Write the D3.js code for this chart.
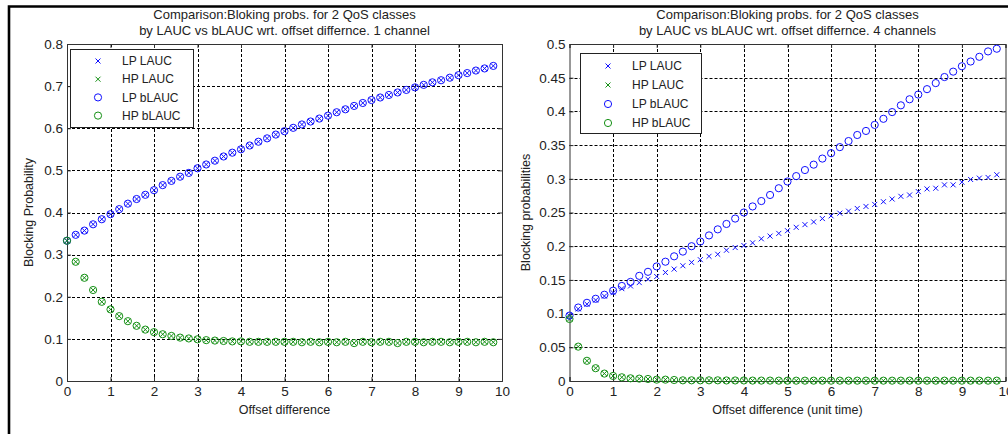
<!DOCTYPE html>
<html>
<head>
<meta charset="utf-8">
<script src="https://cdn.jsdelivr.net/npm/d3@7/dist/d3.min.js"></script>
<style>
  body { margin: 0; background: #fff; }
  svg { display: block; font-family: "Liberation Sans", Arial, sans-serif; }
</style>
</head>
<body>
<svg id="chart" width="1008" height="434"></svg>
<script>
// offset difference values (same for both panels)
var offsets = [0, 0.2, 0.4, 0.6, 0.8, 1, 1.2, 1.4, 1.6, 1.8,
               2, 2.2, 2.4, 2.6, 2.8, 3, 3.2, 3.4, 3.6, 3.8,
               4, 4.2, 4.4, 4.6, 4.8, 5, 5.2, 5.4, 5.6, 5.8,
               6, 6.2, 6.4, 6.6, 6.8, 7, 7.2, 7.4, 7.6, 7.8,
               8, 8.2, 8.4, 8.6, 8.8, 9, 9.2, 9.4, 9.6, 9.8];

// 1 channel
var lpLauc1 = [0.333, 0.347, 0.357, 0.372, 0.384, 0.396, 0.408, 0.421, 0.432, 0.442,
               0.453, 0.465, 0.475, 0.485, 0.494, 0.505, 0.514, 0.523, 0.533, 0.542,
               0.550, 0.559, 0.568, 0.576, 0.585, 0.593, 0.601, 0.609, 0.616, 0.623,
               0.630, 0.638, 0.645, 0.653, 0.660, 0.667, 0.673, 0.679, 0.685, 0.691,
               0.697, 0.703, 0.709, 0.714, 0.720, 0.726, 0.731, 0.737, 0.742, 0.748];
var hpLauc1 = [0.333, 0.283, 0.245, 0.216, 0.188, 0.170, 0.154, 0.142, 0.131, 0.122,
               0.116, 0.111, 0.107, 0.103, 0.101, 0.099, 0.097, 0.096, 0.095, 0.094,
               0.094, 0.093, 0.093, 0.093, 0.093, 0.093, 0.093, 0.092, 0.093, 0.092,
               0.093, 0.092, 0.093, 0.090, 0.093, 0.092, 0.093, 0.093, 0.090, 0.093,
               0.093, 0.092, 0.093, 0.093, 0.092, 0.093, 0.093, 0.092, 0.093, 0.092];
var lpBlauc1 = lpLauc1.slice();
var hpBlauc1 = hpLauc1.slice();

// 4 channels
var lpLauc4 = [0.097, 0.107, 0.114, 0.120, 0.126, 0.131, 0.137, 0.141, 0.146, 0.151,
               0.155, 0.161, 0.166, 0.171, 0.176, 0.180, 0.185, 0.188, 0.194, 0.198,
               0.201, 0.205, 0.211, 0.215, 0.219, 0.223, 0.228, 0.232, 0.236, 0.241,
               0.245, 0.249, 0.252, 0.256, 0.259, 0.262, 0.266, 0.270, 0.274, 0.276,
               0.281, 0.285, 0.286, 0.291, 0.291, 0.295, 0.299, 0.301, 0.302, 0.306];
var hpLauc4 = [0.092, 0.051, 0.030, 0.019, 0.011, 0.0075, 0.0055, 0.004, 0.0035, 0.003,
               0.002, 0.002, 0.0015, 0.001, 0.001, 0.001, 0.001, 0.001, 0.0008, 0.0008,
               0.0008, 0.0006, 0.0006, 0.0006, 0.0005, 0.0005, 0.0005, 0.0005, 0.0005, 0.0005,
               0.0005, 0.0005, 0.0005, 0.0005, 0.0005, 0.0005, 0.0005, 0.0005, 0.0005, 0.0005,
               0.0005, 0.0005, 0.0005, 0.0005, 0.0005, 0.0005, 0.0005, 0.0005, 0.0005, 0.0005];
var lpBlauc4 = [0.097, 0.109, 0.116, 0.122, 0.128, 0.134, 0.141, 0.147, 0.156, 0.162,
                0.170, 0.177, 0.185, 0.192, 0.200, 0.207, 0.216, 0.225, 0.233, 0.241,
                0.250, 0.259, 0.267, 0.276, 0.286, 0.296, 0.304, 0.313, 0.321, 0.330,
                0.338, 0.347, 0.356, 0.365, 0.371, 0.380, 0.389, 0.399, 0.409, 0.418,
                0.425, 0.433, 0.442, 0.451, 0.459, 0.467, 0.474, 0.481, 0.489, 0.493];
var hpBlauc4 = hpLauc4.slice();

var xTickLabels = ["0", "1", "2", "3", "4", "5", "6", "7", "8", "9", "10"];
var yTickLabels1 = ["0", "0.1", "0.2", "0.3", "0.4", "0.5", "0.6", "0.7", "0.8"];
var yTickLabels4 = ["0", "0.05", "0.1", "0.15", "0.2", "0.25", "0.3", "0.35", "0.4", "0.45", "0.5"];
var legendNames = ["LP LAUC", "HP LAUC", "LP bLAUC", "HP bLAUC"];

var BLUE = "#1010ff", GREEN = "#159015";
var TEXT = "#222";

var svg = d3.select("#chart");
svg.append("rect").attr("width", 1008).attr("height", 434).attr("fill", "#fff");

// outer frame (left and top edges visible)
svg.append("path")
  .attr("d", "M9,434 V6.5 H1008")
  .attr("fill", "none").attr("stroke", "#000").attr("stroke-width", 2.6);

function drawCross(sel, color) {
  sel.append("path")
    .attr("d", "M-2.5,-2.5L2.5,2.5M-2.5,2.5L2.5,-2.5")
    .attr("stroke", color).attr("stroke-width", 1).attr("fill", "none");
}
function drawRing(sel, color) {
  sel.append("circle").attr("r", 3.6)
    .attr("stroke", color).attr("stroke-width", 1).attr("fill", "none");
}

function label(x, y, size, str) {
  return svg.append("text").attr("x", x).attr("y", y).attr("text-anchor", "middle")
    .style("font-size", size + "px").style("fill", TEXT).text(str);
}

function drawPanel(p) {
  var x = d3.scaleLinear().domain([0, 10]).range([p.left, p.right]);
  var y = d3.scaleLinear().domain([0, p.yMax]).range([p.bottom, p.top]);
  var xTicks = xTickLabels.map(Number);
  var yTicks = p.yLabels.map(Number);
  var g = svg.append("g");

  // grid
  g.append("g").selectAll("line").data(xTicks.slice(1, -1)).enter().append("line")
    .attr("x1", function(d) { return Math.round(x(d)) + 0.5; })
    .attr("x2", function(d) { return Math.round(x(d)) + 0.5; })
    .attr("y1", p.top).attr("y2", p.bottom)
    .attr("stroke", "#000").attr("stroke-dasharray", "3,2").attr("stroke-width", 1);
  g.append("g").selectAll("line").data(yTicks.slice(1, -1)).enter().append("line")
    .attr("y1", function(d) { return Math.round(y(d)) + 0.5; })
    .attr("y2", function(d) { return Math.round(y(d)) + 0.5; })
    .attr("x1", p.left).attr("x2", p.right)
    .attr("stroke", "#000").attr("stroke-dasharray", "3,2").attr("stroke-width", 1);

  // axes (ticks inward, box on)
  var xAxis = g.append("g").attr("transform", "translate(0," + p.bottom + ")")
    .call(d3.axisBottom(x).tickValues(xTicks).tickSize(-4).tickPadding(5)
      .tickFormat(function(d, i) { return xTickLabels[i]; }));
  g.append("g").attr("transform", "translate(" + p.left + ",0)")
    .call(d3.axisLeft(y).tickValues(yTicks).tickSize(-4).tickPadding(4)
      .tickFormat(function(d, i) { return p.yLabels[i]; }));
  g.append("g").attr("transform", "translate(0," + p.top + ")")
    .call(d3.axisTop(x).tickValues(xTicks).tickSize(-4).tickFormat(""));
  g.append("g").attr("transform", "translate(" + p.right + ",0)")
    .call(d3.axisRight(y).tickValues(yTicks).tickSize(-4).tickFormat(""));
  g.selectAll(".domain").attr("stroke", "#333");
  g.selectAll(".tick line").attr("stroke", "#333");
  g.selectAll(".tick text").style("font-size", "13.5px")
    .style("font-family", "Liberation Sans, Arial, sans-serif").style("fill", TEXT);
  xAxis.selectAll(".tick text").attr("dy", "0.75em");

  // series: plot order LP LAUC, HP LAUC, LP bLAUC, HP bLAUC
  var series = [
    { v: p.lpLauc, c: BLUE, m: drawCross },
    { v: p.hpLauc, c: GREEN, m: drawCross },
    { v: p.lpBlauc, c: BLUE, m: drawRing },
    { v: p.hpBlauc, c: GREEN, m: drawRing }
  ];
  series.forEach(function(s) {
    g.append("g").selectAll("g").data(offsets).enter().append("g")
      .attr("transform", function(d, i) { return "translate(" + x(d) + "," + y(s.v[i]) + ")"; })
      .each(function() { s.m(d3.select(this), s.c); });
  });

  // legend
  var lg = g.append("g").attr("transform", "translate(" + p.legend.x + "," + p.legend.y + ")");
  lg.append("rect").attr("x", 0.5).attr("y", 0.5).attr("width", p.legend.w).attr("height", p.legend.h)
    .attr("fill", "#fff").attr("stroke", "#222").attr("stroke-width", 1);
  series.forEach(function(s, i) {
    var row = lg.append("g").attr("transform", "translate(0," + (p.legend.row0 + i * p.legend.step) + ")");
    s.m(row.append("g").attr("transform", "translate(28,0)"), s.c);
    row.append("text").attr("x", 52).attr("dy", "0.35em")
      .style("font-size", "12px").style("fill", TEXT).text(legendNames[i]);
  });

  // titles and labels
  var cx = (p.left + p.right) / 2;
  label(cx, 19, 13, p.title[0]);
  label(cx, 35, 13, p.title[1]);
  label(cx, 414, 12.5, p.xLabel);
  label(0, 0, 12.5, p.yLabel)
    .attr("transform", "translate(" + p.yLabelX + "," + ((p.top + p.bottom) / 2) + ") rotate(-90)");
}

drawPanel({
  left: 67, right: 502, top: 44, bottom: 381, yMax: 0.8, yLabels: yTickLabels1,
  lpLauc: lpLauc1, hpLauc: hpLauc1, lpBlauc: lpBlauc1, hpBlauc: hpBlauc1,
  legend: { x: 70, y: 49, w: 123, h: 78, row0: 12, step: 18.2 },
  title: ["Comparison:Bloking probs. for 2 QoS classes", "by LAUC vs bLAUC wrt. offset differnce. 1 channel"],
  xLabel: "Offset difference", yLabel: "Blocking Probability", yLabelX: 33
});

drawPanel({
  left: 569.5, right: 1005.5, top: 44, bottom: 381, yMax: 0.5, yLabels: yTickLabels4,
  lpLauc: lpLauc4, hpLauc: hpLauc4, lpBlauc: lpBlauc4, hpBlauc: hpBlauc4,
  legend: { x: 580, y: 53, w: 121, h: 80, row0: 13, step: 19 },
  title: ["Comparison:Bloking probs. for 2 QoS classes", "by LAUC vs bLAUC wrt. offset differnce. 4 channels"],
  xLabel: "Offset difference (unit time)", yLabel: "Blocking probabilities", yLabelX: 530
});
</script>
</body>
</html>
